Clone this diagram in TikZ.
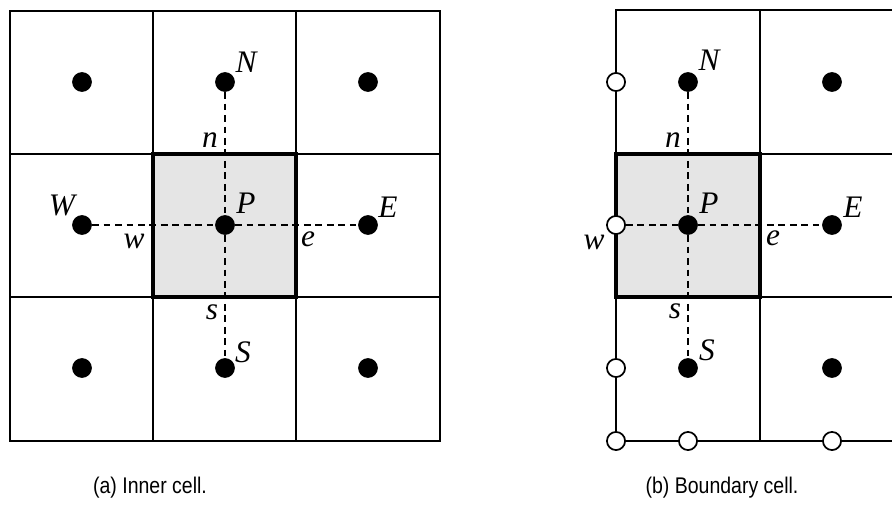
\documentclass[tikz,border=0pt]{standalone}
\usepackage{fontspec}
\setmainfont{Liberation Serif}
\newfontfamily\capfont{Liberation Sans}
\newcommand{\captxt}[1]{\scalebox{0.86}[1]{#1}}
\begin{document}
\begin{tikzpicture}[x=0.75pt,y=-0.75pt,
  grid/.style={line width=1.4pt},
  cellbox/.style={line width=2.8pt},
  dashline/.style={line width=1.2pt, dash pattern=on 5pt off 3.6pt},
  dot/.style={circle, fill=black, inner sep=0pt, minimum size=14.8pt},
  odot/.style={circle, draw=black, fill=white, line width=1.3pt, inner sep=0pt, minimum size=13.6pt},
  lab/.style={font=\fontsize{23.5}{23.5}\selectfont\itshape, inner sep=0pt},
  captext/.style={font=\capfont\fontsize{17}{19}\selectfont, inner sep=0pt}]
\useasboundingbox (0,0) rectangle (892,513);

% ---------- (a) inner cell ----------
\fill[black!10] (153,154) rectangle (296,297);
\draw[grid] (10,11) rectangle (440,441);
\draw[grid] (153,11) -- (153,441) (296,11) -- (296,441)
            (10,154) -- (440,154) (10,297) -- (440,297);
\draw[cellbox] (153,154) rectangle (296,297);

\node[dot] (aNW) at (82,82) {};
\node[dot] (aN)  at (225,82) {};
\node[dot] (aNE) at (368,82) {};
\node[dot] (aW)  at (82,225) {};
\node[dot] (aP)  at (225,225) {};
\node[dot] (aE)  at (368,225) {};
\node[dot] (aSW) at (82,368) {};
\node[dot] (aS)  at (225,368) {};
\node[dot] (aSE) at (368,368) {};

\draw[dashline] (aW) -- (aP);
\draw[dashline] (aP) -- (aE);
\draw[dashline] (aN) -- (aP);
\draw[dashline] (aP) -- (aS);

\node[lab] (laN) at (246,62) {N};
\node[lab] (lan) at (210,140) {n};
\node[lab] (laP) at (246,203) {P};
\node[lab] (laW) at (62,205) {W};
\node[lab] (law) at (134,241) {w};
\node[lab] (lae) at (308,239) {e};
\node[lab] (laE) at (388,207) {E};
\node[lab] (las) at (212,312) {s};
\node[lab] (laS) at (243,352) {S};

\node[captext] (capa) at (150,488) {\captxt{(a) Inner cell.}};

% ---------- (b) boundary cell ----------
\fill[black!10] (616,154) rectangle (760,297);
\draw[grid] (892,10) -- (616,10) -- (616,441) -- (892,441);
\draw[grid] (760,10) -- (760,441)
            (616,154) -- (892,154) (616,297) -- (892,297);
\draw[cellbox] (616,154) rectangle (760,297);

\node[dot] (bN)  at (688,82) {};
\node[dot] (bNE) at (832,82) {};
\node[dot] (bP)  at (688,225) {};
\node[dot] (bE)  at (832,225) {};
\node[dot] (bS)  at (688,368) {};
\node[dot] (bSE) at (832,368) {};

\node[odot] (oN)  at (616,82) {};
\node[odot] (ow)  at (616,225) {};
\node[odot] (oS)  at (616,368) {};
\node[odot] (oSW) at (616,441) {};
\node[odot] (oSm) at (688,441) {};
\node[odot] (oSE) at (832,441) {};

\draw[dashline] (ow) -- (bP);
\draw[dashline] (bP) -- (bE);
\draw[dashline] (bN) -- (bP);
\draw[dashline] (bP) -- (bS);

\node[lab] (lbN) at (709,60) {N};
\node[lab] (lbn) at (673,140) {n};
\node[lab] (lbP) at (709,203) {P};
\node[lab] (lbE) at (853,207) {E};
\node[lab] (lbw) at (594,242) {w};
\node[lab] (lbe) at (773,238) {e};
\node[lab] (lbs) at (675,311) {s};
\node[lab] (lbS) at (707,350) {S};

\node[captext] (capb) at (722,488) {\captxt{(b) Boundary cell.}};
\end{tikzpicture}
\end{document}
